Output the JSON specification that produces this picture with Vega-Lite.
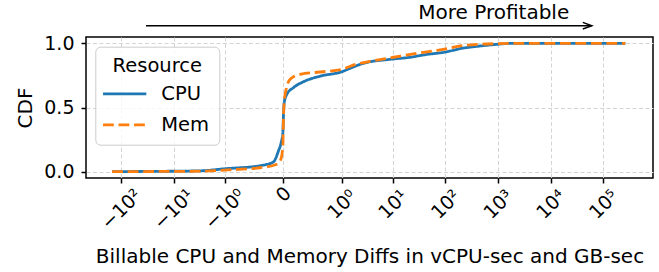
{
  "$schema": "https://vega.github.io/schema/vega-lite/v6.json",
  "width": 567,
  "height": 141,
  "autosize": "none",
  "padding": {"left": 86, "top": 37, "right": 6, "bottom": 94},
  "background": "white",
  "config": {
    "font": "DejaVu Sans",
    "view": {"stroke": "black", "strokeWidth": 1.5},
    "axis": {
      "domain": false,
      "labelColor": "black",
      "labelFont": "DejaVu Sans",
      "titleFont": "DejaVu Sans",
      "titleColor": "black",
      "titleFontWeight": "normal",
      "titleFontSize": 20,
      "tickColor": "black",
      "tickWidth": 1.5,
      "tickSize": 5,
      "grid": true,
      "gridColor": "#d4d4d4",
      "gridWidth": 1,
      "gridDash": [4, 2.5]
    },
    "legend": {
      "labelFont": "DejaVu Sans",
      "titleFont": "DejaVu Sans"
    }
  },
  "layer": [
    {
      "data": {
        "values": [
          {"Resource": "CPU", "x": -148, "cdf": 0.0},
          {"Resource": "CPU", "x": -18.2, "cdf": 0.002},
          {"Resource": "CPU", "x": -3.07, "cdf": 0.006},
          {"Resource": "CPU", "x": -1.01, "cdf": 0.022},
          {"Resource": "CPU", "x": -0.147, "cdf": 0.046},
          {"Resource": "CPU", "x": -0.045, "cdf": 0.075},
          {"Resource": "CPU", "x": -0.0196, "cdf": 0.161},
          {"Resource": "CPU", "x": -0.0081, "cdf": 0.225},
          {"Resource": "CPU", "x": -0.0015, "cdf": 0.303},
          {"Resource": "CPU", "x": 0.0007, "cdf": 0.434},
          {"Resource": "CPU", "x": 0.0034, "cdf": 0.537},
          {"Resource": "CPU", "x": 0.0143, "cdf": 0.603},
          {"Resource": "CPU", "x": 0.0472, "cdf": 0.655},
          {"Resource": "CPU", "x": 0.119, "cdf": 0.701},
          {"Resource": "CPU", "x": 0.356, "cdf": 0.746},
          {"Resource": "CPU", "x": 1.0, "cdf": 0.779},
          {"Resource": "CPU", "x": 1.48, "cdf": 0.806},
          {"Resource": "CPU", "x": 2.71, "cdf": 0.845},
          {"Resource": "CPU", "x": 8.9, "cdf": 0.876},
          {"Resource": "CPU", "x": 21.5, "cdf": 0.892},
          {"Resource": "CPU", "x": 38.4, "cdf": 0.91},
          {"Resource": "CPU", "x": 107, "cdf": 0.935},
          {"Resource": "CPU", "x": 191, "cdf": 0.959},
          {"Resource": "CPU", "x": 459, "cdf": 0.98},
          {"Resource": "CPU", "x": 953, "cdf": 0.993},
          {"Resource": "CPU", "x": 1703, "cdf": 1.0},
          {"Resource": "CPU", "x": 259600, "cdf": 1.0},
          {"Resource": "Mem", "x": -148, "cdf": 0.0},
          {"Resource": "Mem", "x": -18.2, "cdf": 0.001},
          {"Resource": "Mem", "x": -3.07, "cdf": 0.003},
          {"Resource": "Mem", "x": -1.01, "cdf": 0.012},
          {"Resource": "Mem", "x": -0.147, "cdf": 0.03},
          {"Resource": "Mem", "x": -0.0271, "cdf": 0.057},
          {"Resource": "Mem", "x": -0.0093, "cdf": 0.096},
          {"Resource": "Mem", "x": -0.0015, "cdf": 0.2},
          {"Resource": "Mem", "x": 0.0007, "cdf": 0.408},
          {"Resource": "Mem", "x": 0.0034, "cdf": 0.537},
          {"Resource": "Mem", "x": 0.0113, "cdf": 0.642},
          {"Resource": "Mem", "x": 0.0296, "cdf": 0.72},
          {"Resource": "Mem", "x": 0.0918, "cdf": 0.759},
          {"Resource": "Mem", "x": 0.403, "cdf": 0.779},
          {"Resource": "Mem", "x": 1.0, "cdf": 0.798},
          {"Resource": "Mem", "x": 2.01, "cdf": 0.839},
          {"Resource": "Mem", "x": 4.24, "cdf": 0.865},
          {"Resource": "Mem", "x": 10.3, "cdf": 0.892},
          {"Resource": "Mem", "x": 28.8, "cdf": 0.923},
          {"Resource": "Mem", "x": 79.8, "cdf": 0.949},
          {"Resource": "Mem", "x": 191, "cdf": 0.98},
          {"Resource": "Mem", "x": 459, "cdf": 0.993},
          {"Resource": "Mem", "x": 953, "cdf": 0.998},
          {"Resource": "Mem", "x": 1703, "cdf": 1.0},
          {"Resource": "Mem", "x": 259600, "cdf": 1.0}
        ]
      },
      "mark": {"type": "line", "strokeWidth": 2.8, "interpolate": "monotone"},
      "encoding": {
        "x": {
          "field": "x",
          "type": "quantitative",
          "scale": {"type": "symlog", "constant": 0.084, "domain": [-464, 870000], "nice": false, "zero": false},
          "axis": {
            "title": "Billable CPU and Memory Diffs in vCPU-sec and GB-sec",
            "titlePadding": 14,
            "values": [-100, -10, -1, 0, 1, 10, 100, 1000, 10000, 100000],
            "labelExpr": "datum.value == 0 ? '0' : (datum.value < 0 ? '−' : '') + '10' + ['⁰','¹','²','³','⁴','⁵'][round(log(abs(datum.value)) / LN10)]",
            "labelFontSize": 19,
            "labelAngle": -45,
            "labelAlign": "center",
            "labelBaseline": "middle",
            "labelPadding": {"condition": [{"test": "datum.value == 0", "value": 11}, {"test": "datum.value < 0", "value": 26}], "value": 21},
            "labelFlush": false,
            "labelOverlap": false,
            "labelBound": false
          }
        },
        "y": {
          "field": "cdf",
          "type": "quantitative",
          "scale": {"domain": [-0.05, 1.05], "nice": false, "zero": false},
          "axis": {
            "title": "CDF",
            "titlePadding": 8,
            "values": [0, 0.5, 1],
            "format": ".1f",
            "labelFontSize": 19,
            "labelPadding": 7
          }
        },
        "color": {
          "field": "Resource",
          "type": "nominal",
          "scale": {"domain": ["CPU", "Mem"], "range": ["#1f77b4", "#ff7f0e"]},
          "legend": {
            "title": "Resource",
            "orient": "none",
            "legendX": 9.3,
            "legendY": 9.7,
            "padding": 10,
            "titleFontSize": 19.5,
            "titleFontWeight": "normal",
            "titleColor": "black",
            "titleAnchor": "middle",
            "titlePadding": 8,
            "labelFontSize": 19.5,
            "labelColor": "black",
            "labelOffset": 36.5,
            "rowPadding": 10,
            "symbolType": "M-1.5,0L3.91,0",
            "symbolSize": 256,
            "symbolStrokeWidth": 2.8,
            "fillColor": "rgba(255,255,255,0.8)",
            "strokeColor": "#cccccc",
            "cornerRadius": 5
          }
        },
        "strokeDash": {
          "field": "Resource",
          "type": "nominal",
          "scale": {"domain": ["CPU", "Mem"], "range": [[1, 0], [10.8, 4.7]]},
          "legend": {
            "title": "Resource",
            "orient": "none",
            "legendX": 9.3,
            "legendY": 9.7,
            "padding": 10,
            "titleFontSize": 19.5,
            "titleFontWeight": "normal",
            "titleColor": "black",
            "titleAnchor": "middle",
            "titlePadding": 8,
            "labelFontSize": 19.5,
            "labelColor": "black",
            "labelOffset": 36.5,
            "rowPadding": 10,
            "symbolType": "M-1.5,0L3.91,0",
            "symbolSize": 256,
            "symbolStrokeWidth": 2.8,
            "fillColor": "rgba(255,255,255,0.8)",
            "strokeColor": "#cccccc",
            "cornerRadius": 5
          }
        }
      }
    },
    {
      "data": {"values": [{"note": "More Profitable"}]},
      "mark": {"type": "rule", "color": "black", "strokeWidth": 1.5},
      "encoding": {
        "x": {"datum": -33.6, "type": "quantitative"},
        "x2": {"datum": 60000},
        "y": {"datum": 1.138, "type": "quantitative"}
      }
    },
    {
      "data": {"values": [{"note": "More Profitable"}]},
      "mark": {"type": "point", "shape": "M-1,-0.37L0,0L-1,0.37", "size": 324, "filled": false, "stroke": "black", "strokeWidth": 1.5, "opacity": 1},
      "encoding": {
        "x": {"datum": 60000, "type": "quantitative"},
        "y": {"datum": 1.138, "type": "quantitative"}
      }
    },
    {
      "data": {"values": [{"note": "More Profitable"}]},
      "mark": {"type": "text", "fontSize": 20, "font": "DejaVu Sans", "color": "black", "align": "center", "baseline": "alphabetic"},
      "encoding": {
        "x": {"datum": 828, "type": "quantitative"},
        "y": {"datum": 1.19, "type": "quantitative"},
        "text": {"field": "note"}
      }
    }
  ]
}
